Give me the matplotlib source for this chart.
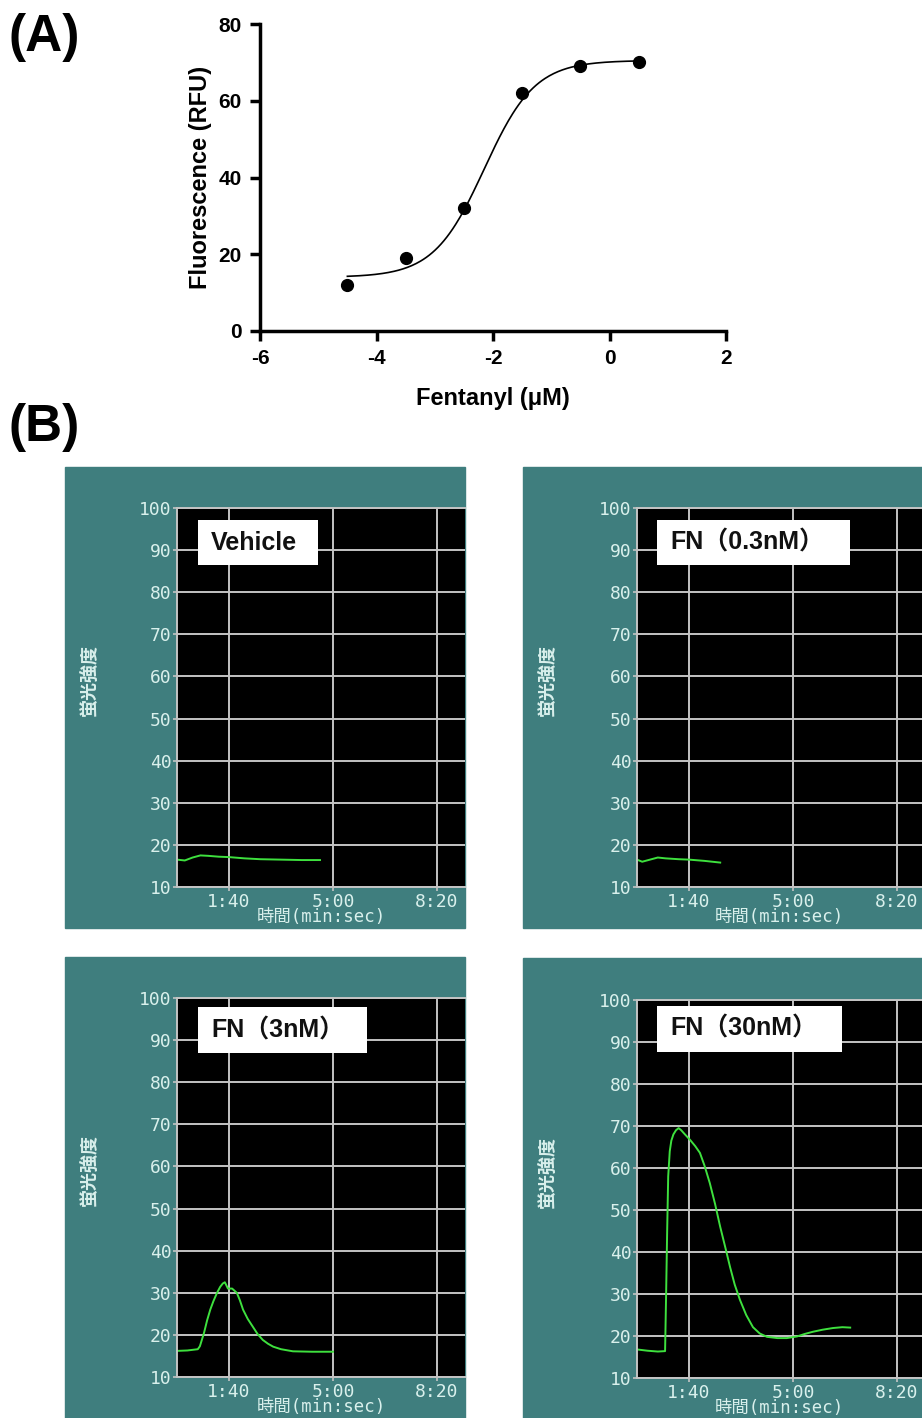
import matplotlib
matplotlib.use("Agg")
import matplotlib.pyplot as plt
import numpy as np
from matplotlib.patches import Rectangle

W, H = 922, 1418
DPI = 100
plt.rcParams["axes.unicode_minus"] = False

# ---- panel A: concentration-response ----
log_conc = [-4.5, -3.5, -2.5, -1.5, -0.5, 0.5]
rfu = [12, 19, 32, 62, 69, 70]
# 4-parameter logistic fit (bottom, top, logEC50, hill)
fit_bottom, fit_top, fit_logec50, fit_hill = 14.0, 70.5, -2.15, 1.0

# ---- panel B: calcium traces (time in s, fluorescence) ----
veh_t = [0, 15, 30, 45, 60, 80, 100, 130, 160, 200, 240, 275]
veh_y = [16.5, 16.3, 17.0, 17.5, 17.4, 17.2, 17.1, 16.8, 16.6, 16.5, 16.4, 16.4]

fn03_t = [0, 10, 25, 40, 55, 80, 100, 130, 160]
fn03_y = [16.5, 16.0, 16.5, 17.0, 16.8, 16.6, 16.5, 16.2, 15.8]

fn3_t = [0, 20, 40, 44, 52, 58, 64, 70, 77, 83, 88, 92, 98, 106, 115, 121, 127, 136, 146, 155, 165, 175, 185, 200, 223, 260, 300]
fn3_y = [16.2, 16.3, 16.6, 17.3, 20.5, 23.5, 26.0, 28.0, 30.0, 31.4, 32.2, 32.5, 31.0, 31.0, 30.0, 28.2, 26.0, 23.8, 21.9, 20.2, 18.8, 17.9, 17.2, 16.6, 16.1, 16.0, 16.0]

fn30_t = [0, 20, 40, 54, 56, 58, 60, 63, 66, 70, 75, 80, 85, 90, 96, 102, 112, 121, 130, 140, 150, 160, 170, 179, 188, 198, 210, 223, 236, 250, 270, 288, 308, 323, 338, 357, 377, 395, 410]
fn30_y = [16.8, 16.5, 16.3, 16.4, 30.0, 45.0, 58.0, 64.0, 66.5, 68.0, 69.0, 69.5, 69.0, 68.3, 67.5, 66.7, 65.2, 63.6, 60.5, 56.4, 51.5, 46.0, 41.0, 36.4, 32.2, 28.6, 25.0, 22.1, 20.6, 19.8, 19.5, 19.5, 19.9, 20.5, 21.0, 21.5, 21.9, 22.1, 22.0]

labels = ["Vehicle", "FN\uff080.3nM\uff09", "FN\uff083nM\uff09", "FN\uff0830nM\uff09"]
traces = [(veh_t, veh_y), (fn03_t, fn03_y), (fn3_t, fn3_y), (fn30_t, fn30_y)]

teal = "#3f7e7e"
pale = "#d9f0ec"
gridc = "#c4c4c4"
green = "#3ee03e"
cjk = ["Noto Sans CJK JP", "DejaVu Sans"]
mono = ["DejaVu Sans Mono", "Noto Sans CJK JP"]
arial = ["Liberation Sans", "Noto Sans CJK JP", "DejaVu Sans"]

fig = plt.figure(figsize=(W / DPI, H / DPI), dpi=DPI)


def px_axes(x0, y0, x1, y1):
    return fig.add_axes([x0 / W, 1 - y1 / H, (x1 - x0) / W, (y1 - y0) / H])


# panel A
ax = px_axes(260, 24, 726, 331)
xs = np.linspace(log_conc[0], log_conc[-1], 200)
ys = fit_bottom + (fit_top - fit_bottom) / (1 + 10 ** ((fit_logec50 - xs) * fit_hill))
ax.plot(xs, ys, color="black", lw=1.2)
ax.plot(log_conc, rfu, "o", color="black", ms=8.5)
ax.set_xlim(-6, 2)
ax.set_ylim(0, 80)
ax.set_xticks([-6, -4, -2, 0, 2])
ax.set_yticks([0, 20, 40, 60, 80])
for s in ["top", "right"]:
    ax.spines[s].set_visible(False)
for s in ["left", "bottom"]:
    ax.spines[s].set_linewidth(2.5)
ax.tick_params(length=7, width=2.5, labelsize=15, pad=6)
for lab in ax.get_xticklabels() + ax.get_yticklabels():
    lab.set_family(arial)
    lab.set_fontweight("bold")
ax.set_xlabel("Fentanyl (\u03bcM)", family=arial, fontweight="bold", fontsize=17, labelpad=14)
ax.set_ylabel("Fluorescence (RFU)", family=arial, fontweight="bold", fontsize=17, labelpad=5)

fig.text(8 / W, 1 - 38 / H, "(A)", family=arial, fontweight="bold", fontsize=37, va="center")
fig.text(8 / W, 1 - 428 / H, "(B)", family=arial, fontweight="bold", fontsize=37, va="center")

# panel B layout (pixels): teal frame, black plot area, label box
frames = [(65, 467, 465, 928), (523, 467, 922, 928), (65, 957, 465, 1418), (523, 958, 922, 1418)]
plots = [(177, 508, 465, 887), (637, 508, 922, 887), (177, 998, 465, 1377), (637, 1000, 922, 1378)]
boxes = [(198, 520, 318, 565), (657, 520, 850, 565), (198, 1007, 367, 1053), (657, 1006, 842, 1052)]
px_per_s = 104 / 200.0

for i in range(4):
    fx0, fy0, fx1, fy1 = frames[i]
    fig.add_artist(Rectangle((fx0 / W, 1 - fy1 / H), (fx1 - fx0) / W, (fy1 - fy0) / H,
                             transform=fig.transFigure, color=teal, zorder=0))
    x0, y0, x1, y1 = plots[i]
    ax = px_axes(x0, y0, x1, y1)
    ax.set_facecolor("black")
    ax.set_xlim(0, (x1 - x0) / px_per_s)
    ax.set_ylim(10, 100)
    ax.set_yticks(range(10, 101, 10))
    ax.set_xticks([100, 300, 500])
    ax.set_xticklabels(["1:40", "5:00", "8:20"])
    ax.grid(True, color=gridc, lw=1.4)
    ax.set_axisbelow(True)
    for s in ["left", "bottom", "top"]:
        ax.spines[s].set_color(gridc)
        ax.spines[s].set_linewidth(1.4)
    ax.spines["right"].set_visible(False)
    ax.tick_params(colors=gridc, labelcolor=pale, labelsize=13, length=3, width=1.2, pad=1)
    for lab in ax.get_xticklabels() + ax.get_yticklabels():
        lab.set_family(mono)
    t, y = traces[i]
    ax.plot(t, y, color=green, lw=1.4, clip_on=False)
    ax.set_xlabel("時間(min:sec)", family=mono, color=pale, fontsize=12.5, labelpad=-2)
    ax.set_ylabel("蛍光強度", family=cjk, color=pale, fontsize=13, fontweight="bold")
    ax.yaxis.set_label_coords((fx0 + 34 - x0) / (x1 - x0), 1 - 172 / (y1 - y0))

    bx0, by0, bx1, by1 = boxes[i]
    fig.add_artist(Rectangle((bx0 / W, 1 - by1 / H), (bx1 - bx0) / W, (by1 - by0) / H,
                             transform=fig.transFigure, facecolor="white", edgecolor="none", zorder=5))
    fig.text((bx0 + 13) / W, 1 - (by0 + by1) / 2 / H, labels[i], family=arial,
             fontweight="bold", fontsize=18, va="center", zorder=6, color="#111111")

fig.savefig("out.png", dpi=DPI)
